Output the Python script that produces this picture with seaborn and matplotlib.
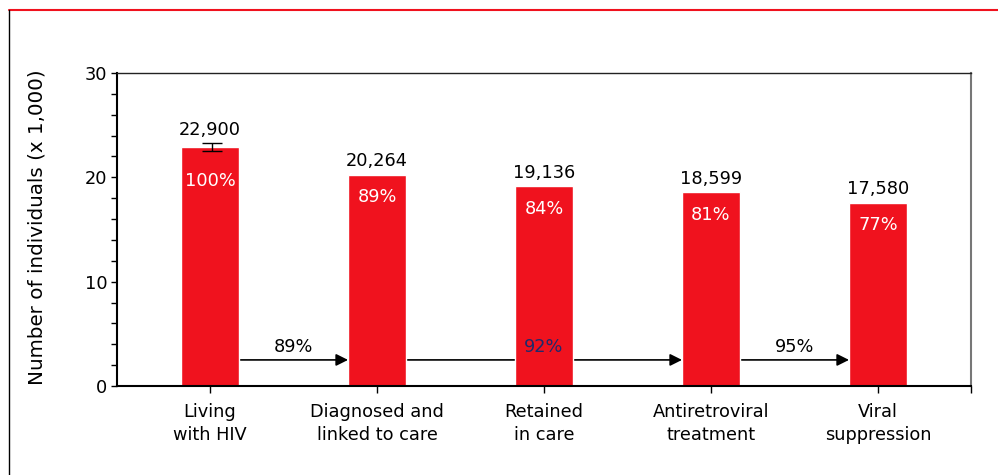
import matplotlib
matplotlib.use("Agg")
import matplotlib.pyplot as plt
import seaborn as sns
import pandas as pd
from matplotlib.lines import Line2D

categories = ["Living\nwith HIV", "Diagnosed and\nlinked to care", "Retained\nin care",
              "Antiretroviral\ntreatment", "Viral\nsuppression"]
values = [22.900, 20.264, 19.136, 18.599, 17.580]
value_labels = ["22,900", "20,264", "19,136", "18,599", "17,580"]
pct_labels = ["100%", "89%", "84%", "81%", "77%"]
err_low = [22.5]
err_high = [23.3]
step_from = [0, 1, 3]
step_to = [1, 3, 4]
step_labels = ["89%", "92%", "95%"]
step_colors = ["black", "#1F2A6B", "black"]

sns.set_theme(style="white")
plt.rcParams['font.family'] = ['DejaVu Sans']
plt.rcParams['text.color'] = 'black'
plt.rcParams['axes.labelcolor'] = 'black'
plt.rcParams['xtick.color'] = 'black'
plt.rcParams['ytick.color'] = 'black'

fig = plt.figure(figsize=(9.98, 4.75), dpi=100)
ax = fig.add_axes([117/998, 1-386/475, (971-117)/998, (386-73)/475])

df = pd.DataFrame({"cat": categories, "val": values})
RED = "#F0121E"
sns.barplot(data=df, x="cat", y="val", color=RED, saturation=1, width=0.347, ax=ax, zorder=2)

ax.set_xlim(-0.557, 4.557)
ax.set_ylim(0, 30)

# error bar on first bar
mid = (err_low[0] + err_high[0]) / 2
ax.errorbar([0.01], [mid], yerr=[[mid - err_low[0]], [err_high[0] - mid]],
            fmt="none", ecolor="black", elinewidth=1, capsize=7, capthick=1, zorder=4)

fs = 12.8
bw = 0.347 / 2
for i, v in enumerate(values):
    ax.annotate(value_labels[i], (i, v), xytext=(0, 6 if i == 0 else 3), textcoords="offset points",
                ha="center", va="bottom", fontsize=fs, color="black")
    ax.annotate(pct_labels[i], (i, v), xytext=(0, -18 if i == 0 else -10), textcoords="offset points",
                ha="center", va="top", fontsize=fs, color="white", zorder=5)

arrow_y = 2.5
for a, b, lab, col in zip(step_from, step_to, step_labels, step_colors):
    ax.annotate("", xy=(b - bw, arrow_y), xytext=(a + bw, arrow_y),
                arrowprops=dict(arrowstyle="-|>", color="black", lw=1.2, mutation_scale=18,
                                shrinkA=0, shrinkB=0), zorder=1)
    ax.text((a + b) / 2, arrow_y + 0.4, lab, ha="center", va="bottom", fontsize=fs, color=col, zorder=5)

ax.set_xlabel("")
ax.set_ylabel("Number of individuals (x 1,000)", fontsize=14.3, color="black")
ax.yaxis.set_label_coords(-0.082, 0.506)
ax.set_yticks([0, 10, 20, 30])
ax.set_yticks(range(0, 31, 2), minor=True)
ax.set_xticks(range(5))
ax.set_xticklabels(categories, fontsize=fs, linespacing=1.35)
ax.tick_params(axis="y", which="both", direction="out", length=4, width=1, color="black",
               left=True, labelsize=fs, pad=3, labelcolor="black")
ax.tick_params(axis="x", which="major", direction="out", length=5, width=1, color="black",
               bottom=True, pad=7, labelcolor="black")
ax.set_xticks([4.557], minor=True)
ax.tick_params(axis="x", which="minor", direction="out", length=5, width=1, color="black", bottom=True)

for s in ["left", "bottom"]:
    ax.spines[s].set_color("black")
    ax.spines[s].set_linewidth(1.5)
ax.spines["top"].set_color("#222222")
ax.spines["top"].set_linewidth(1.0)
ax.spines["right"].set_color("#777777")
ax.spines["right"].set_linewidth(1.5)

# outer frame lines
fig.add_artist(Line2D([9/998, 1], [1-10/475, 1-10/475], color="#F0121E", lw=1.5, transform=fig.transFigure))
fig.add_artist(Line2D([9/998, 9/998], [0, 1-10/475], color="black", lw=1.0, transform=fig.transFigure))

fig.savefig("out.png", dpi=100)
